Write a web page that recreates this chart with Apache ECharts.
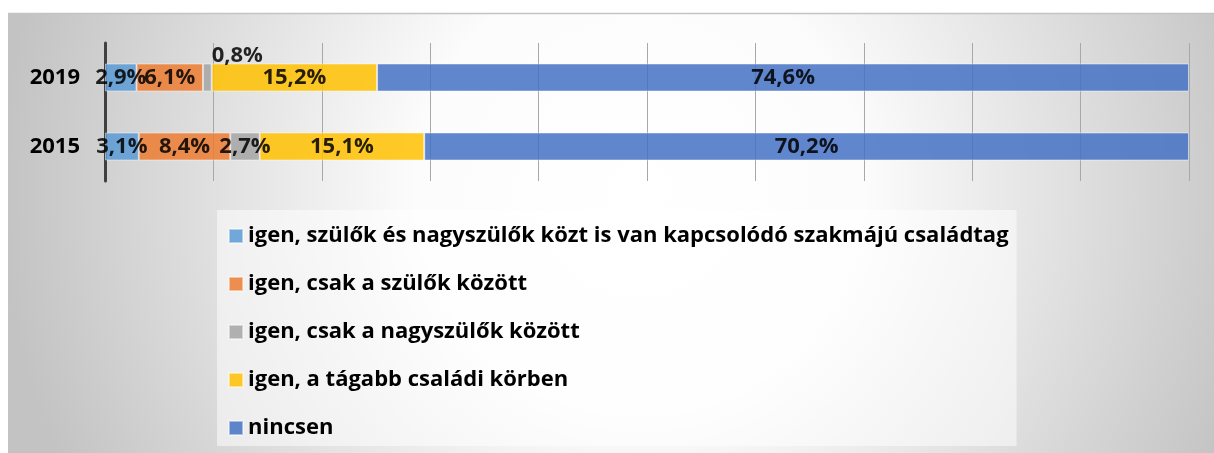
<!DOCTYPE html>
<html>
<head>
<meta charset="utf-8">
<script src="https://cdn.jsdelivr.net/npm/echarts@6/dist/echarts.min.js"></script>
<style>
  html, body { margin: 0; padding: 0; background: #fff; }
  #main { width: 1214px; height: 453px; }
</style>
</head>
<body>
<div id="main"></div>
<script>
var years = ['2019', '2015'];
var seriesNames = [
  'igen, szülők és nagyszülők közt is van kapcsolódó szakmájú családtag',
  'igen, csak a szülők között',
  'igen, csak a nagyszülők között',
  'igen, a tágabb családi körben',
  'nincsen'
];
// values per year, same order as years
var bothFamily = [2.9, 3.1];
var parentsOnly = [6.1, 8.4];
var grandparentsOnly = [0.8, 2.7];
var widerFamily = [15.2, 15.1];
var none = [74.6, 70.2];
var colors = ['#5B9BD5', '#ED7D31', '#A5A5A5', '#FFC000', '#4472C4'];

var allValues = [bothFamily, parentsOnly, grandparentsOnly, widerFamily, none];

// 100% stacked, like the original: every bar is scaled to its own total
var totals = years.map(function(y, i) {
  var s = 0;
  allValues.forEach(function(arr) { s += arr[i]; });
  return s;
});

var fontName = '"Open Sans", "Liberation Sans", sans-serif';

var series = allValues.map(function(arr, k) {
  return {
    name: seriesNames[k],
    type: 'bar',
    stack: 'total',
    barWidth: 28,
    itemStyle: {
      color: colors[k],
      opacity: 0.85,
      borderColor: 'rgba(255,255,255,0.55)',
      borderWidth: 1
    },
    label: {
      show: true,
      position: 'inside',
      color: '#000',
      fontFamily: fontName,
      fontWeight: 'bold',
      fontSize: 22,
      formatter: function(p) {
        return p.data.raw.toFixed(1).replace('.', ',') + '%';
      }
    },
    data: arr.map(function(v, i) {
      var item = { value: v / totals[i] * 100, raw: v };
      // the tiny slice gets its label above the bar
      if (v < 1.5) {
        item.label = { position: 'top', distance: 0, offset: [30, 3] };
      }
      return item;
    })
  };
});

var myChart = echarts.init(document.getElementById('main'));
var option = {
  animation: false,
  graphic: [
    {
      type: 'rect',
      z: -10,
      shape: { x: 8, y: 13, width: 1206, height: 440 },
      style: {
        fill: {
          type: 'radial', x: 640, y: 190, r: 640, global: true,
          colorStops: [
            { offset: 0, color: '#ffffff' },
            { offset: 0.35, color: '#fcfcfc' },
            { offset: 1, color: '#c3c3c3' }
          ]
        }
      }
    },
    {
      type: 'line',
      z: -9,
      shape: { x1: 8, y1: 13.5, x2: 1214, y2: 13.5 },
      style: { stroke: '#c4c4c4', lineWidth: 1.5 }
    }
  ],
  grid: { left: 105, right: 25, top: 43, bottom: 272 },
  legend: {
    orient: 'vertical',
    left: 217,
    top: 210,
    padding: [14, 8, 6, 11],
    backgroundColor: 'rgba(255,255,255,0.5)',
    itemWidth: 14,
    itemHeight: 14,
    itemGap: 24,
    icon: 'rect',
    textStyle: {
      color: '#000',
      fontFamily: fontName,
      fontWeight: 'bold',
      fontSize: 22,
      lineHeight: 24
    },
    data: seriesNames
  },
  xAxis: {
    type: 'value',
    min: 0,
    max: 100,
    interval: 10,
    axisLabel: { show: false },
    axisLine: { show: false },
    axisTick: { show: false },
    splitLine: { show: true, lineStyle: { color: '#a8a8a8', width: 1 } }
  },
  yAxis: {
    type: 'category',
    inverse: true,
    data: years,
    axisTick: { show: false },
    axisLine: { show: true, lineStyle: { color: '#404040', width: 3 } },
    axisLabel: {
      margin: 25,
      color: '#000',
      fontFamily: fontName,
      fontWeight: 'bold',
      fontSize: 22
    }
  },
  series: series
};
myChart.setOption(option);
</script>
</body>
</html>
